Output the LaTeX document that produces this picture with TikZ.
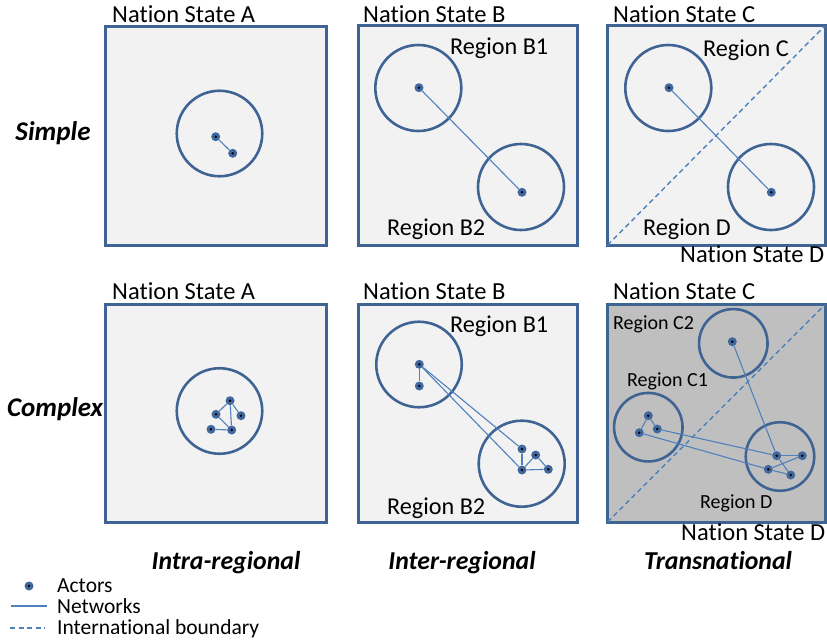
\documentclass[tikz,border=0pt]{standalone}
\usepackage{fontspec}
\setmainfont[Ligatures=NoCommon]{Carlito}
\definecolor{frame}{HTML}{3F6494}
\definecolor{netblue}{HTML}{4F81BD}
\definecolor{actorfill}{HTML}{41689E}
\definecolor{panel}{HTML}{F2F2F2}
\definecolor{paneldark}{HTML}{BFBFBF}
\tikzset{
  statebox/.style={draw=frame, line width=3pt, fill=panel, rectangle, inner sep=0pt},
  region/.style={draw=frame, line width=2.6pt, circle, inner sep=0pt},
  actor/.style={circle, fill=actorfill, minimum size=9pt, inner sep=0pt,
    path picture={\fill[black] (path picture bounding box.center) circle (1.4pt);}},
  net/.style={draw=netblue, line width=1.1pt},
  border/.style={draw=netblue, line width=1.4pt, dash pattern=on 5pt off 3.5pt},
  nation/.style={anchor=base west, inner sep=0pt, font=\fontsize{24.5}{29}\selectfont},
  reglab/.style={anchor=base west, inner sep=0pt, font=\fontsize{24.2}{29}\selectfont},
  reglabs/.style={anchor=base west, inner sep=0pt, font=\fontsize{20}{24}\selectfont},
  rowlab/.style={anchor=base, inner sep=0pt, font=\fontsize{27}{32}\selectfont\bfseries\itshape},
  collab/.style={anchor=base, inner sep=0pt, font=\fontsize{25.8}{31}\selectfont\bfseries\itshape},
  leglab/.style={anchor=base west, inner sep=0pt, font=\fontsize{21.5}{25}\selectfont}
}
\begin{document}
\begin{tikzpicture}[x=1pt, y=-1pt]
\useasboundingbox (0,0) rectangle (827,641);

% ---------- boxes ----------
\node[statebox, minimum width=220.5pt, minimum height=219pt] (bA1) at (215.75,135.5) {};
\node[statebox, minimum width=219pt, minimum height=220pt] (bB1) at (468,135.75) {};
\node[statebox, minimum width=218pt, minimum height=220pt] (bC1) at (716,135.75) {};
\node[statebox, minimum width=220.5pt, minimum height=218pt] (bA2) at (215.75,413) {};
\node[statebox, minimum width=219pt, minimum height=218pt] (bB2) at (468,413) {};
\node[statebox, fill=paneldark, minimum width=218pt, minimum height=218pt] (bC2) at (716,413.5) {};

% ---------- dashed international boundaries ----------
\draw[border] ([shift={(2pt,2pt)}]bC1.south west) -- ([shift={(-2pt,-2pt)}]bC1.north east);
\draw[border] ([shift={(2pt,2pt)}]bC2.south west) -- ([shift={(-2pt,-2pt)}]bC2.north east);

% ---------- nation labels ----------
\node[nation] (nA1) at (112,22) {Nation State A};
\node[nation] (nB1) at (363,22) {Nation State B};
\node[nation] (nC1) at (613,22) {Nation State C};
\node[nation] (nD1) at (680,262) {Nation State D};
\node[nation] (nA2) at (112,299) {Nation State A};
\node[nation] (nB2) at (363,299) {Nation State B};
\node[nation] (nC2) at (613,299) {Nation State C};
\node[nation] (nD2) at (681,540) {Nation State D};

% ---------- region circles ----------
\node[region, minimum size=85.5pt] (rA1) at (219.5,133.5) {};
\node[region, minimum size=86pt] (rB11) at (418.3,88) {};
\node[region, minimum size=86pt] (rB21) at (521,187) {};
\node[region, minimum size=86pt] (rC1) at (668.3,88) {};
\node[region, minimum size=86pt] (rD1) at (771,187) {};

\node[region, minimum size=85.5pt] (rA2) at (219.5,411) {};
\node[region, minimum size=85.5pt] (rB12) at (419,364.5) {};
\node[region, minimum size=86pt] (rB22) at (521.7,463.7) {};
\node[region, minimum size=68.5pt] (rC22) at (733.3,343.3) {};
\node[region, minimum size=68.5pt] (rC12) at (648.3,427.2) {};
\node[region, minimum size=68.5pt] (rD2) at (780,456.5) {};

% ---------- region labels ----------
\node[reglab] (lB11) at (450,54) {Region B1};
\node[reglab] (lB21) at (387,235) {Region B2};
\node[reglab] (lC1) at (703,56) {Region C};
\node[reglab] (lD1) at (643,235) {Region D};
\node[reglab] (lB12) at (450,332) {Region B1};
\node[reglab] (lB22) at (387,514) {Region B2};
\node[reglabs] (lC22) at (613,329) {Region C2};
\node[reglabs] (lC12) at (627,386) {Region C1};
\node[reglabs] (lD2) at (700,508) {Region D};

% ---------- simple: intra-regional ----------
\node[actor] (sa1) at (215.7,136.7) {};
\node[actor] (sa2) at (232.7,153.3) {};
\draw[net] (sa1) -- (sa2);

% ---------- simple: inter-regional ----------
\node[actor] (sb1) at (419,87.7) {};
\node[actor] (sb2) at (522,192.3) {};
\draw[net] (sb1) -- (sb2);

% ---------- simple: transnational ----------
\node[actor] (sc1) at (669,87.7) {};
\node[actor] (sc2) at (771.3,192.3) {};
\draw[net] (sc1) -- (sc2);

% ---------- complex: intra-regional ----------
\node[actor] (ca1) at (230,400.7) {};
\node[actor] (ca2) at (216,414.3) {};
\node[actor] (ca3) at (241,415.7) {};
\node[actor] (ca4) at (211,429.3) {};
\node[actor] (ca5) at (231.7,430) {};
\draw[net] (ca1) -- (ca2);
\draw[net] (ca1) -- (ca3);
\draw[net] (ca1) -- (ca5);
\draw[net] (ca2) -- (ca5);
\draw[net] (ca4) -- (ca5);

% ---------- complex: inter-regional ----------
\node[actor] (cb1) at (419.3,364.3) {};
\node[actor] (cb2) at (419.3,386) {};
\node[actor] (cb3) at (522,449) {};
\node[actor] (cb4) at (535.7,455) {};
\node[actor] (cb5) at (522,470) {};
\node[actor] (cb6) at (548.3,469.3) {};
\draw[net] (cb1) -- (cb2);
\draw[net] (cb1) -- (cb3);
\draw[net] (cb1) -- (cb5);
\draw[net] (cb3) -- (cb5);
\draw[net] (cb5) -- (cb4);
\draw[net] (cb4) -- (cb6);
\draw[net] (cb5) -- (cb6);

% ---------- complex: transnational ----------
\node[actor] (cc1) at (732.3,341.7) {};
\node[actor] (cc2) at (648.3,415.7) {};
\node[actor] (cc3) at (657.3,429) {};
\node[actor] (cc4) at (639.3,432.7) {};
\node[actor] (cc5) at (776.7,455.7) {};
\node[actor] (cc6) at (802.3,455.7) {};
\node[actor] (cc7) at (768.3,469.3) {};
\node[actor] (cc8) at (790.7,475) {};
\draw[net] (cc1) -- (cc5);
\draw[net] (cc5) -- (cc8);
\draw[net] (cc2) -- (cc4);
\draw[net] (cc2) -- (cc3);
\draw[net] (cc3) -- (cc5);
\draw[net] (cc4) -- (cc7);
\draw[net] (cc5) -- (cc6);
\draw[net] (cc7) -- (cc6);
\draw[net] (cc7) -- (cc8);

% ---------- row / column labels ----------
\node[rowlab] (rowS) at (53,140.7) {Simple};
\node[rowlab] (rowC) at (55,416.7) {Complex};
\node[collab] (colI) at (226,569) {Intra-regional};
\node[collab] (colE) at (462,569) {Inter-regional};
\node[collab] (colT) at (718,569) {Transnational};

% ---------- legend ----------
\node[actor] (legA) at (29,586) {};
\node[leglab] (legAt) at (57,592) {Actors};
\coordinate (legN1) at (11,606);
\coordinate (legN2) at (47,606);
\draw[net] (legN1) -- (legN2);
\node[leglab] (legNt) at (57,613) {Networks};
\coordinate (legB1) at (10,628);
\coordinate (legB2) at (45,628);
\draw[border] (legB1) -- (legB2);
\node[leglab] (legBt) at (57,634) {International boundary};
\end{tikzpicture}
\end{document}
